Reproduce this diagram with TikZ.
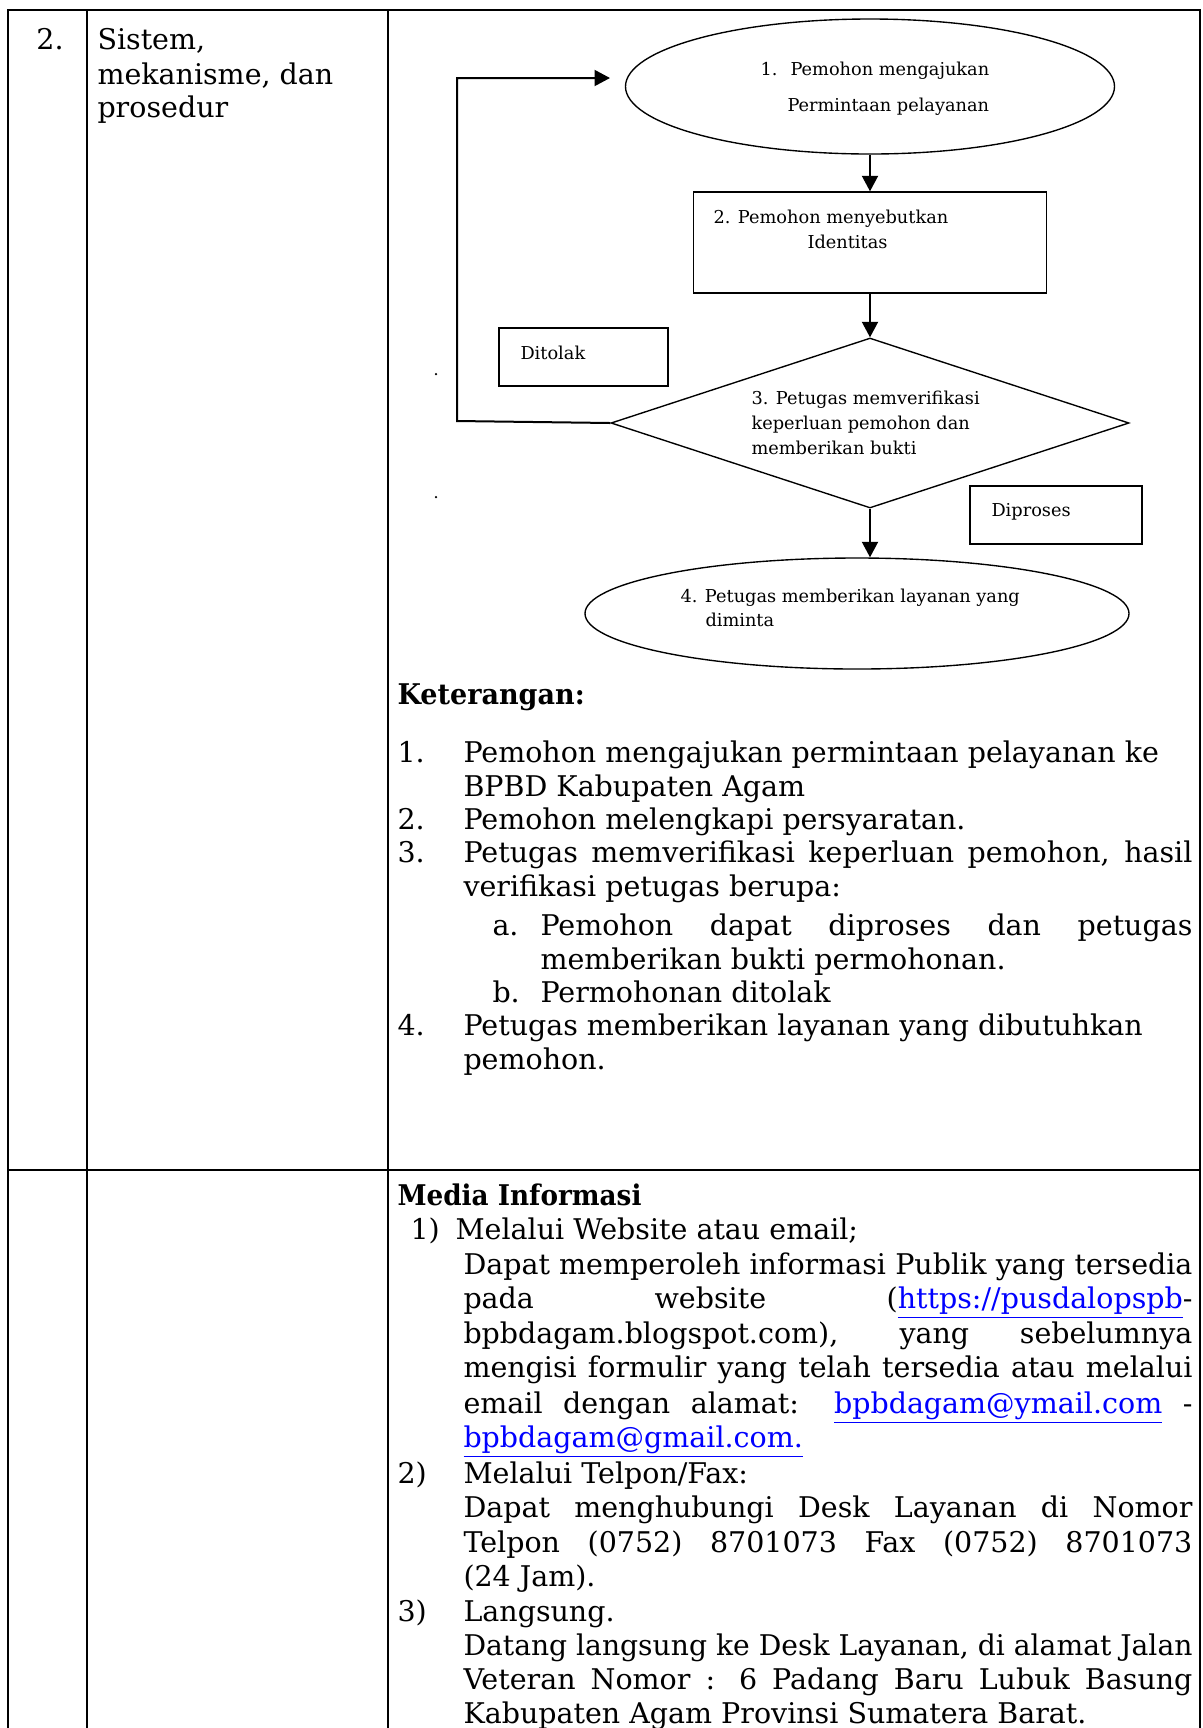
\documentclass[tikz,border=0pt]{standalone}
\usepackage{fontspec}
\usepackage{graphicx}
\setmainfont{DejaVu Serif}
\usetikzlibrary{shapes.geometric,arrows.meta}
\definecolor{linkblue}{RGB}{0,0,255}
\newcommand{\bodyf}{\fontsize{11.4pt}{13.5pt}\selectfont}
\newcommand{\flowf}{\fontsize{7.1pt}{8.5pt}\selectfont}
\newsavebox{\jlbox}
\newcommand{\jline}[2]{\sbox{\jlbox}{#2}%
  \ifdim\wd\jlbox>#1\relax
    \pgfmathsetmacro{\jlratio}{(#1)/(\the\wd\jlbox)}\scalebox{\jlratio}[1]{\usebox{\jlbox}}%
  \else\makebox[#1][s]{#2}\fi}
\newcommand{\fitw}[2]{\sbox{\jlbox}{#2}%
  \pgfmathsetmacro{\jlratio}{(#1)/(\the\wd\jlbox)}\scalebox{\jlratio}[1]{\usebox{\jlbox}}}
\newcommand{\lnk}[1]{\textcolor{linkblue}{\underline{#1}}}
\begin{document}
\begin{tikzpicture}[x=0.4pt,y=-0.4pt,
  tline/.style={line width=0.8pt},
  shp/.style={draw,line width=0.55pt,inner sep=0pt},
  arr/.style={line width=0.8pt,-{Triangle[length=6.2pt,width=6.4pt]}},
  bt/.style={anchor=base west,inner sep=0pt,font=\bodyf},
  ft/.style={anchor=base west,inner sep=0pt,font=\flowf}]
\useasboundingbox (0,0) rectangle (1203,1728);
% table
\draw[tline] (8,1728) -- (8,10) -- (1199.5,10) -- (1199.5,1728);
\draw[tline] (87,10) -- (87,1728);
\draw[tline] (388,10) -- (388,1728);
\draw[tline] (8,1170) -- (1199.5,1170);
% left column
\node[bt] (n2) at (36,49) {2.};
\node[bt] (c1) at (97,49) {Sistem,};
\node[bt] (c2) at (97,84) {mekanisme, dan};
\node[bt] (c3) at (97,117) {prosedur};
% flowchart
\node[shp,ellipse,minimum width=195.6pt,minimum height=54pt] (e1) at (870,86.5) {};
\node[ft] (e1n) at (760,75) {1.};
\node[ft] (e1a) at (790,75) {Pemohon mengajukan};
\node[ft] (e1b) at (787,111) {Permintaan pelayanan};
\node[shp,rectangle,minimum width=141.2pt,minimum height=40.4pt] (b2) at (870,242.5) {};
\node[ft] (b2a) at (713,223) {2. Pemohon menyebutkan};
\node[ft] (b2b) at (807,248) {Identitas};
\node[shp,diamond,minimum width=207.2pt,minimum height=68pt] (d3) at (870,423) {};
\node[ft] (d3a) at (751,404) {3. Petugas memverifikasi};
\node[ft] (d3b) at (751,429) {keperluan pemohon dan};
\node[ft] (d3c) at (751,454) {memberikan bukti};
\node[shp,minimum width=67.6pt,minimum height=23.2pt] (tol) at (583.5,357) {};
\node[ft] (tolt) at (520,359) {Ditolak};
\node[shp,minimum width=68.8pt,minimum height=23.2pt] (pro) at (1056,515) {};
\node[ft] (prot) at (991,516) {Diproses};
\node[shp,ellipse,minimum width=217.6pt,minimum height=44.4pt] (e4) at (857,613.5) {};
\node[ft] (e4a) at (680,602) {4. Petugas memberikan layanan yang};
\node[ft] (e4b) at (705,626) {diminta};
\draw[arr] (e1.south) -- (b2.north);
\draw[arr] (b2.south) -- (d3.north);
\draw[arr] (d3.south) -- (d3.south |- e4.north);
\coordinate (fbc) at (457,421);
\coordinate (fbt) at (610,78);
\draw[arr] (d3.west) -- (fbc) |- (fbt);
\fill (436,374) circle (0.5pt);
\fill (436,497) circle (0.5pt);
% keterangan
\node[bt,font=\bodyf\bfseries] (ket) at (397,704) {\fitw{74.9pt}{Keterangan:}};
\node[bt] (k1n) at (397,762) {1.};
\node[bt] (k1a) at (463,762) {Pemohon mengajukan permintaan pelayanan ke};
\node[bt] (k1b) at (463,796) {BPBD Kabupaten Agam};
\node[bt] (k2n) at (397,829) {2.};
\node[bt] (k2a) at (463,829) {Pemohon melengkapi persyaratan.};
\node[bt] (k3n) at (397,862) {3.};
\node[bt] (k3a) at (463,862) {\jline{291.6pt}{Petugas memverifikasi keperluan pemohon, hasil}};
\node[bt] (k3b) at (463,896) {verifikasi petugas berupa:};
\node[bt] (kan) at (492,935) {a.};
\node[bt] (kaa) at (540,935) {\jline{260.8pt}{Pemohon dapat diproses dan petugas}};
\node[bt] (kab) at (540,969) {memberikan bukti permohonan.};
\node[bt] (kbn) at (492,1002) {b.};
\node[bt] (kba) at (540,1002) {Permohonan ditolak};
\node[bt] (k4n) at (397,1035) {4.};
\node[bt] (k4a) at (463,1035) {Petugas memberikan layanan yang dibutuhkan};
\node[bt] (k4b) at (463,1069) {pemohon.};
% media informasi
\node[bt,font=\bodyf\bfseries] (med) at (397,1205) {\fitw{97.6pt}{Media Informasi}};
\node[bt] (m1n) at (410,1239) {1)};
\node[bt] (m1a) at (455,1239) {Melalui Website atau email;};
\node[bt] (m1b) at (463,1274) {\jline{291.6pt}{Dapat memperoleh informasi Publik yang tersedia}};
\node[bt] (m1c) at (463,1308) {\jline{291.6pt}{pada website (\lnk{https://pusdalopspb}-}};
\node[bt] (m1d) at (463,1343) {\jline{291.6pt}{bpbdagam.blogspot.com), yang sebelumnya}};
\node[bt] (m1e) at (463,1377) {\jline{291.6pt}{mengisi formulir yang telah tersedia atau melalui}};
\node[bt] (m1f) at (463,1413) {\jline{291.6pt}{email dengan alamat: \lnk{bpbdagam@ymail.com} -}};
\node[bt] (m1g) at (463,1447) {\lnk{bpbdagam@gmail.com.}};
\node[bt] (m2n) at (397,1483) {2)};
\node[bt] (m2a) at (463,1483) {Melalui Telpon/Fax:};
\node[bt] (m2b) at (463,1517) {\jline{291.6pt}{Dapat menghubungi Desk Layanan di Nomor}};
\node[bt] (m2c) at (463,1552) {\jline{291.6pt}{Telpon (0752) 8701073 Fax (0752) 8701073}};
\node[bt] (m2d) at (463,1586) {(24 Jam).};
\node[bt] (m3n) at (397,1621) {3)};
\node[bt] (m3a) at (463,1621) {Langsung.};
\node[bt] (m3b) at (463,1655) {\jline{291.6pt}{Datang langsung ke Desk Layanan, di alamat Jalan}};
\node[bt] (m3c) at (463,1689) {\jline{291.6pt}{Veteran Nomor : 6 Padang Baru Lubuk Basung}};
\node[bt] (m3d) at (463,1723) {Kabupaten Agam Provinsi Sumatera Barat.};
\end{tikzpicture}
\end{document}
